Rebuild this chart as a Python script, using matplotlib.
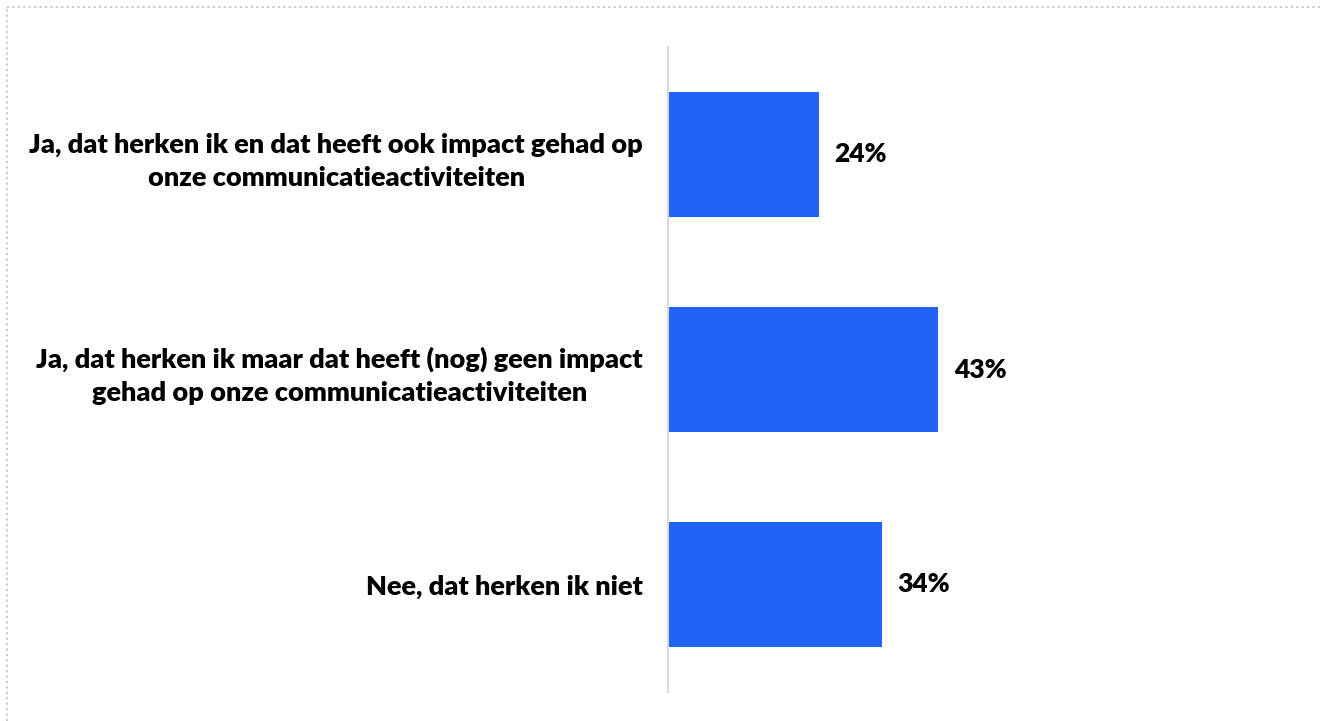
import matplotlib
matplotlib.use("Agg")
import matplotlib.pyplot as plt
from matplotlib.lines import Line2D

categories = [
    "Ja, dat herken ik en dat heeft ook impact gehad op\nonze communicatieactiviteiten",
    "Ja, dat herken ik maar dat heeft (nog) geen impact\ngehad op onze communicatieactiviteiten",
    "Nee, dat herken ik niet",
]
values = [24, 43, 34]
value_labels = ["24%", "43%", "34%"]

plt.rcParams["font.family"] = ["Lato", "DejaVu Sans"]

W, H = 1320, 721
fig = plt.figure(figsize=(W / 100, H / 100), dpi=100)
fig.patch.set_facecolor("white")

# dotted frame along top and left edges
fig.add_artist(Line2D([7 / W, 1.0], [1 - 7 / H, 1 - 7 / H], transform=fig.transFigure,
                      color="#c4c4c4", lw=1.3, linestyle=(0, (1.2, 1.8))))
fig.add_artist(Line2D([7 / W, 7 / W], [0.0, 1 - 7 / H], transform=fig.transFigure,
                      color="#c4c4c4", lw=1.3, linestyle=(0, (1.2, 1.8))))

ax_left = 668 / W
ax_top = 1 - 47 / H
ax_bottom = 1 - 692 / H
px_per_pct = 6.29
ax_width = 100 * px_per_pct / W
ax = fig.add_axes([ax_left, ax_bottom, ax_width, ax_top - ax_bottom])

ypos = list(range(len(categories)))
ax.barh(ypos, values, height=0.58, color="#2163f6", left=0)
ax.set_xlim(0, 100)
ax.set_ylim(2.5, -0.5)

for y, v, lab in zip(ypos, values, value_labels):
    ax.text(v + 2.5, y, lab, ha="left", va="center", fontsize=19,
            fontweight="heavy", color="#000000")

ax.set_yticks(ypos)
ax.set_yticklabels(categories, fontsize=19.5, fontweight="heavy", color="#000000",
                   multialignment="center", linespacing=1.45)
ax.tick_params(axis="y", length=0, pad=18)
ax.set_xticks([])
for side in ["top", "right", "bottom"]:
    ax.spines[side].set_visible(False)
ax.spines["left"].set_color("#d9d9d9")
ax.spines["left"].set_linewidth(1.5)
ax.set_facecolor("none")

fig.savefig("out.png", dpi=100, facecolor="white")
